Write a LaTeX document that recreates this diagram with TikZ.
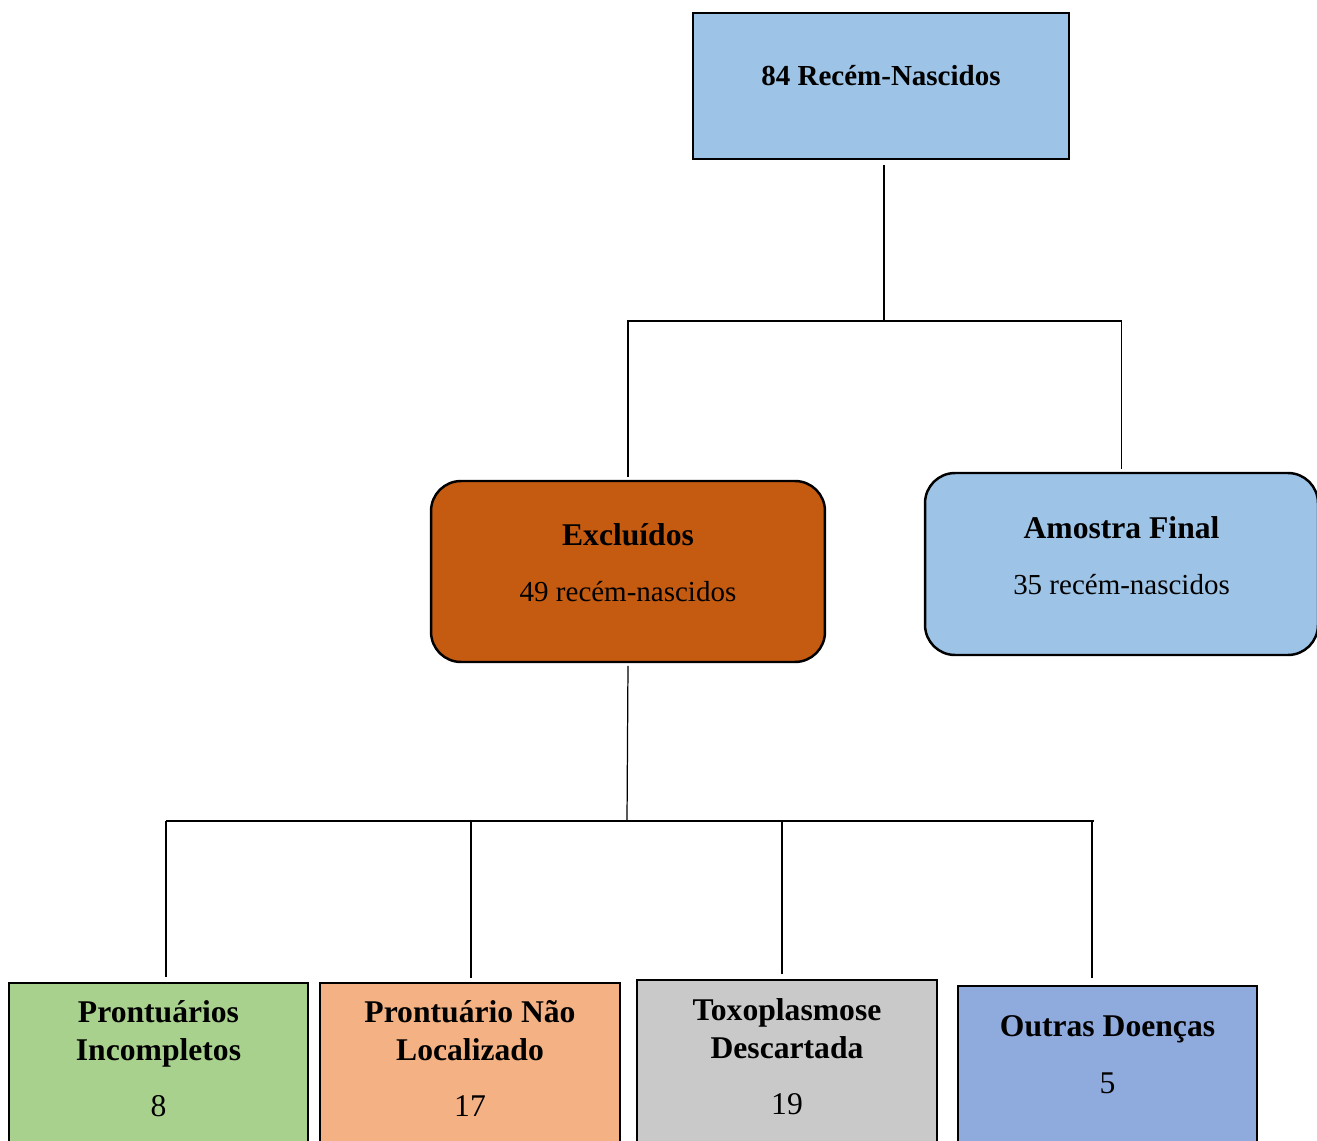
\documentclass[tikz,border=0pt]{standalone}
\usepackage{fontspec}
\setmainfont{Liberation Serif}
\usetikzlibrary{calc}
\definecolor{cSky}{HTML}{9DC3E6}
\definecolor{cRust}{HTML}{C55A11}
\definecolor{cLeaf}{HTML}{A9D18E}
\definecolor{cPeach}{HTML}{F4B183}
\definecolor{cAsh}{HTML}{C9C9C9}
\definecolor{cBlue}{HTML}{8FAADC}
\tikzset{
    box/.style  ={draw, line width=1.4pt, inner sep=0pt},
    rbox/.style ={box, rounded corners=0.6cm},
    link/.style ={line width=0.7pt},
    head/.style ={font=\fontsize{18}{21.6}\selectfont\bfseries, align=center,
                  inner sep=0pt, anchor=base},
    txt/.style  ={font=\fontsize{16.5}{20}\selectfont, inner sep=0pt, anchor=base},
    num/.style  ={font=\fontsize{18}{21.6}\selectfont, inner sep=0pt, anchor=base},
}

\begin{document}
\begin{tikzpicture}[x=0.02cm, y=-0.02cm]
\useasboundingbox (0,0) rectangle (1317,1141);
\clip (0,0) rectangle (1317,1141);

% ===================== Topo =====================
\node[box, fill=cSky, minimum width=7.52cm, minimum height=2.92cm] (rn) at (881,86) {};
\node[head, font=\fontsize{16.5}{20}\selectfont\bfseries] (rn-t) at (881,85.5) {84 Recém-Nascidos};

% ===================== Segundo nivel =====================
\node[rbox, fill=cRust, minimum width=7.88cm, minimum height=3.62cm] (exc) at (628,571.5) {};
\node[head] (exc-t) at (628,545.5) {Excluídos};
\node[txt]  (exc-n) at (628,601.5) {49 recém-nascidos};

\node[rbox, fill=cSky, minimum width=7.86cm, minimum height=3.64cm] (amo) at (1121.5,564) {};
\node[head] (amo-t) at (1121.5,538.5) {Amostra Final};
\node[txt]  (amo-n) at (1121.5,594.5) {35 recém-nascidos};

% ===================== Motivos de exclusao =====================
% (base de um no de duas linhas = linha de baixo)
\node[box, fill=cLeaf,  minimum width=5.98cm, minimum height=4cm, anchor=north] (pin) at (158.5,982) {};
\node[head] (pin-t) at (158.5,1060.5) {Prontuários\\Incompletos};
\node[num]  (pin-n) at (158.5,1116) {8};

\node[box, fill=cPeach, minimum width=6cm, minimum height=4cm, anchor=north] (pnl) at (470,982) {};
\node[head] (pnl-t) at (470,1060.5) {Prontuário Não\\Localizado};
\node[num]  (pnl-n) at (470,1116) {17};

\node[box, fill=cAsh,   minimum width=6cm, minimum height=4cm, anchor=north] (txd) at (787,979) {};
\node[head] (txd-t) at (787,1058.5) {Toxoplasmose\\Descartada};
\node[num]  (txd-n) at (787,1114) {19};

\node[box, fill=cBlue,  minimum width=5.98cm, minimum height=4cm, anchor=north] (otd) at (1107.5,985) {};
\node[head] (otd-t) at (1107.5,1036.5) {Outras Doenças};
\node[num]  (otd-n) at (1107.5,1093) {5};

% ===================== Ligacoes =====================
\coordinate (split1) at (884,321);
\draw[link, shorten <=3pt] (rn.south -| split1) -- (split1);
\draw[link, shorten <=1.5pt, shorten >=1.5pt] (exc.north) |- (split1) -| (amo.north);

\coordinate (split2) at (627,821);
\draw[link, shorten <=1.5pt] (exc.south) -- (split2);
\draw[link] (166,821) coordinate (d1) -- (1094,821);
\coordinate (d2) at (471,821);
\coordinate (d3) at (782,821);
\coordinate (d4) at (1092,821);
\draw[link, shorten >=3pt] (d1) -- (d1 |- pin.north);
\draw[link, shorten >=2pt] (d2) -- (d2 |- pnl.north);
\draw[link, shorten >=3pt] (d3) -- (d3 |- txd.north);
\draw[link, shorten >=4pt] (d4) -- (d4 |- otd.north);

\end{tikzpicture}
\end{document}
